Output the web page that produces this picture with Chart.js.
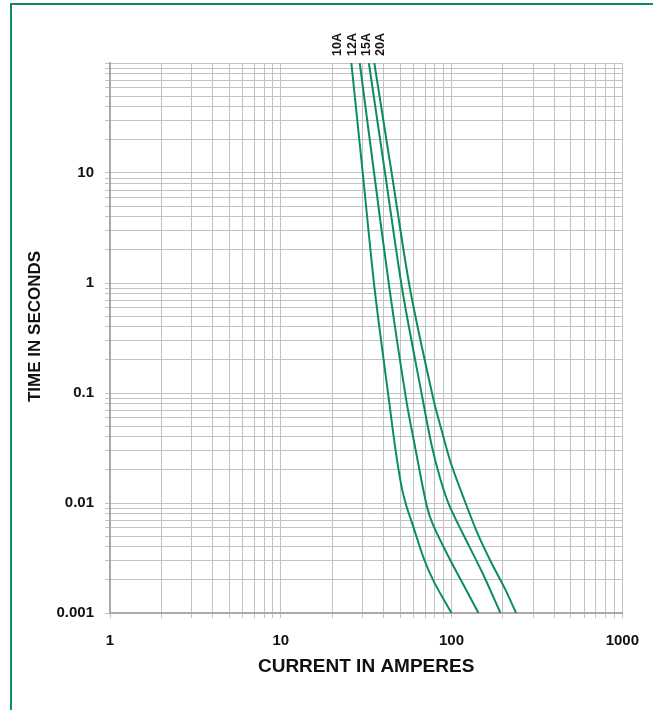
<!DOCTYPE html>
<html>
<head>
<meta charset="utf-8">
<script src="https://cdn.jsdelivr.net/npm/chart.js@4/dist/chart.umd.min.js"></script>
<style>
    body {
        margin: 0;
        background: #ffffff;
    }

    .frame {
        position: relative;
        width: 653px;
        height: 710px;
        overflow: hidden;
    }

    .frame-border {
        position: absolute;
        left: 10px;
        top: 3px;
        width: 700px;
        height: 760px;
        border-left: 2px solid #0e8c5c;
        border-top: 2px solid #0e8c5c;
    }

    #fuseChart {
        position: absolute;
        left: 0;
        top: 0;
    }
</style>
</head>
<body>
<div class="frame">
    <div class="frame-border"></div>
    <canvas id="fuseChart" width="653" height="710"></canvas>
</div>

<script>
const seriesLabels = ["10A", "12A", "15A", "20A"];

const current10A = [25.9, 30.2, 35.5, 43.0, 47.0, 51.0, 54.2, 58.7, 69.5, 79.6, 100];
const time10A = [100, 10, 0.864, 0.0863, 0.0303, 0.014, 0.0096, 0.0066, 0.0030, 0.00187, 0.001];

const current12A = [29.0, 35.2, 43.4, 54.3, 61.0, 71.4, 77.7, 98.6, 121.9, 143.8];
const time12A = [100, 10, 0.864, 0.0863, 0.033, 0.0096, 0.0064, 0.0030, 0.00162, 0.001];

const current15A = [32.8, 40.8, 51.5, 67.9, 76.4, 86.3, 97.3, 116.0, 151.8, 193.4];
const time15A = [100, 10, 0.864, 0.0863, 0.0337, 0.0162, 0.0094, 0.00534, 0.00231, 0.001];

const current20A = [35.3, 44.6, 57.3, 78.5, 87.4, 98.6, 120.8, 141.9, 171.4, 204.3, 238.9];
const time20A = [100, 10, 0.864, 0.0863, 0.0461, 0.0236, 0.010, 0.0053, 0.00285, 0.00169, 0.001];

const xTickLabels = ["1", "10", "100", "1000"];
const yTickLabels = ["0.001", "0.01", "0.1", "1", "10"];

const xTitle = "CURRENT IN AMPERES";
const yTitle = "TIME IN SECONDS";

const lineColor = "#0a8f5a";
const gridColor = "#c2c2c2";
const axisColor = "#a9a9a9";
const textColor = "#111111";
const fontFamily = "'Liberation Sans', Arial, sans-serif";

function toPoints(currents, times) {
    return currents.map((c, i) => ({ x: c, y: times[i] }));
}

function logTicks(min, max) {
    const ticks = [];
    const start = Math.round(Math.log10(min));
    const end = Math.round(Math.log10(max));

    for (let k = start; k < end; k++) {
        for (let m = 1; m < 10; m++) {
            ticks.push({
                value: parseFloat((m * Math.pow(10, k)).toPrecision(6)),
                major: m === 1
            });
        }
    }

    ticks.push({ value: max, major: true });
    return ticks;
}

function labelFor(value, labels) {
    const found = labels.find(
        l => Math.abs(Math.log10(Number(l)) - Math.log10(value)) < 1e-6
    );
    return found || "";
}

// curve names above the plot and the y title, drawn by hand
const extraTextPlugin = {
    id: "extraText",
    afterDraw(chart) {
        const ctx = chart.ctx;
        const area = chart.chartArea;

        ctx.save();
        ctx.fillStyle = textColor;
        ctx.textBaseline = "middle";

        ctx.font = "bold 12.5px " + fontFamily;
        ctx.textAlign = "left";
        seriesLabels.forEach((label, i) => {
            ctx.save();
            ctx.translate(338 + i * 14.3, area.top - 7);
            ctx.rotate(-Math.PI / 2);
            ctx.fillText(label, 0, 0);
            ctx.restore();
        });

        ctx.font = "bold 17px " + fontFamily;
        ctx.textAlign = "center";
        ctx.translate(35, area.top + (area.bottom - area.top) * 0.479);
        ctx.rotate(-Math.PI / 2);
        ctx.fillText(yTitle, 0, 0);

        ctx.restore();
    }
};

function makeDataset(label, currents, times) {
    return {
        label: label,
        data: toPoints(currents, times),
        borderColor: lineColor,
        borderWidth: 2,
        pointRadius: 0,
        tension: 0.3,
        fill: false
    };
}

new Chart(document.getElementById("fuseChart"), {
    type: "line",
    data: {
        datasets: [
            makeDataset(seriesLabels[0], current10A, time10A),
            makeDataset(seriesLabels[1], current12A, time12A),
            makeDataset(seriesLabels[2], current15A, time15A),
            makeDataset(seriesLabels[3], current20A, time20A)
        ]
    },
    options: {
        responsive: false,
        animation: false,
        layout: {
            padding: {
                left: 0,
                top: 63,
                right: 30,
                bottom: 0
            }
        },
        plugins: {
            legend: { display: false },
            tooltip: { enabled: false }
        },
        scales: {
            x: {
                type: "logarithmic",
                min: 1,
                max: 1000,
                afterBuildTicks: axis => {
                    axis.ticks = logTicks(1, 1000);
                },
                afterFit: axis => {
                    axis.height = 97;
                },
                grid: {
                    color: gridColor,
                    lineWidth: 1,
                    tickLength: 5
                },
                border: {
                    color: axisColor,
                    width: 2
                },
                ticks: {
                    autoSkip: false,
                    maxRotation: 0,
                    padding: 14,
                    color: textColor,
                    font: { family: fontFamily, size: 15, weight: "bold" },
                    callback: value => labelFor(value, xTickLabels)
                },
                title: {
                    display: true,
                    text: xTitle,
                    color: textColor,
                    padding: { top: 0, bottom: 32 },
                    font: { family: fontFamily, size: 19, weight: "bold" }
                }
            },
            y: {
                type: "logarithmic",
                min: 0.001,
                max: 100,
                afterBuildTicks: axis => {
                    axis.ticks = logTicks(0.001, 100);
                },
                afterFit: axis => {
                    axis.width = 110;
                },
                grid: {
                    color: gridColor,
                    lineWidth: 1,
                    tickLength: 5
                },
                border: {
                    color: axisColor,
                    width: 2
                },
                ticks: {
                    autoSkip: false,
                    padding: 11,
                    color: textColor,
                    font: { family: fontFamily, size: 15, weight: "bold" },
                    callback: value => labelFor(value, yTickLabels)
                }
            }
        }
    },
    plugins: [extraTextPlugin]
});
</script>
</body>
</html>
